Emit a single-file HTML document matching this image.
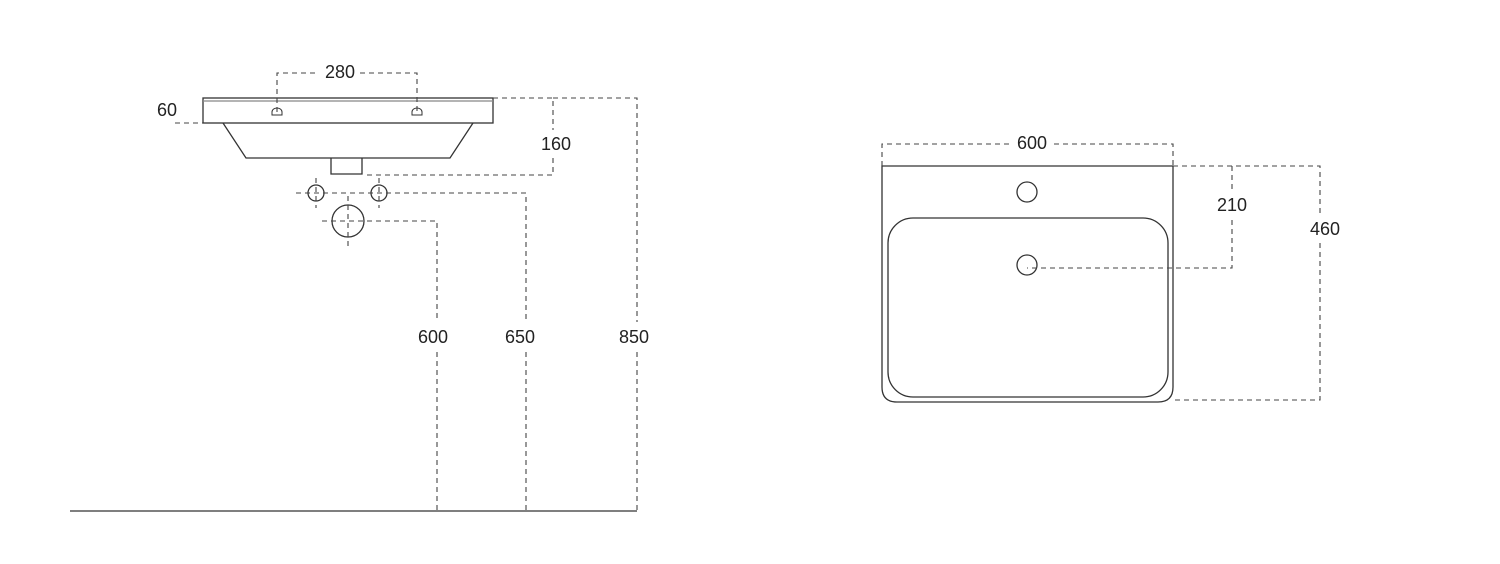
<!DOCTYPE html>
<html><head><meta charset="utf-8"><style>
html,body{margin:0;padding:0;background:#fff;width:1500px;height:564px;overflow:hidden}
text{font-family:"Liberation Sans","DejaVu Sans",sans-serif;font-size:18px;fill:#222;text-anchor:middle;dominant-baseline:central}
</style></head><body>
<svg width="1500" height="564" viewBox="0 0 1500 564" xmlns="http://www.w3.org/2000/svg">
<g fill="none" stroke="#333" stroke-width="1.3">
  <!-- left elevation -->
  <rect x="203" y="98" width="290" height="25"/>
  <line x1="203" y1="101" x2="493" y2="101" stroke="#888"/>
  <polyline points="223,123 246,158 450,158 473,123"/>
  <polyline points="331,158 331,174 362,174 362,158"/>
  <circle cx="316" cy="193" r="8"/>
  <circle cx="379" cy="193" r="8"/>
  <circle cx="348" cy="221" r="16"/>
  <path d="M272,112 a5,4 0 0 1 10,0 v3 h-10z M412,112 a5,4 0 0 1 10,0 v3 h-10z" stroke-width="1"/>
  <line x1="70" y1="511" x2="637" y2="511"/>
  <!-- right plan -->
  <path d="M882,166 H1173 V387 Q1173,402 1158,402 H897 Q882,402 882,387 Z"/>
  <rect x="888" y="218" width="280" height="179" rx="25" ry="25"/>
  <circle cx="1027" cy="192" r="10"/>
  <circle cx="1027" cy="265" r="10"/>
</g>
<g fill="none" stroke="#444" stroke-width="1.1" stroke-dasharray="5,4">
  <!-- 280 -->
  <path d="M277,112 V73 H318 M360,73 H417 V112"/>
  <!-- 60 -->
  <path d="M175,123 H203"/>
  <!-- 160 -->
  <path d="M493,98 H553 V130 M553,158 V175 H363"/>
  <!-- 850 -->
  <path d="M553,98 H637 V322 M637,352 V511"/>
  <!-- pipes -->
  <path d="M296,193 H526 V322 M526,352 V511"/>
  <path d="M322,221 H437 V322 M437,352 V511"/>
  <path d="M316,178 V208 M379,178 V208 M348,196 V248"/>
  <!-- right dims -->
  <path d="M882,166 V144 H1010 M1054,144 H1173 V166"/>
  <path d="M1173,166 H1320 V215 M1320,243 V400 H1175"/>
  <path d="M1232,166 V190 M1232,220 V268 H1027"/>
</g>
<text x="340" y="72">280</text>
<text x="167" y="110">60</text>
<text x="556" y="144">160</text>
<text x="433" y="337">600</text>
<text x="520" y="337">650</text>
<text x="634" y="337">850</text>
<text x="1032" y="143">600</text>
<text x="1232" y="205">210</text>
<text x="1325" y="229">460</text>
</svg>
</body></html>
